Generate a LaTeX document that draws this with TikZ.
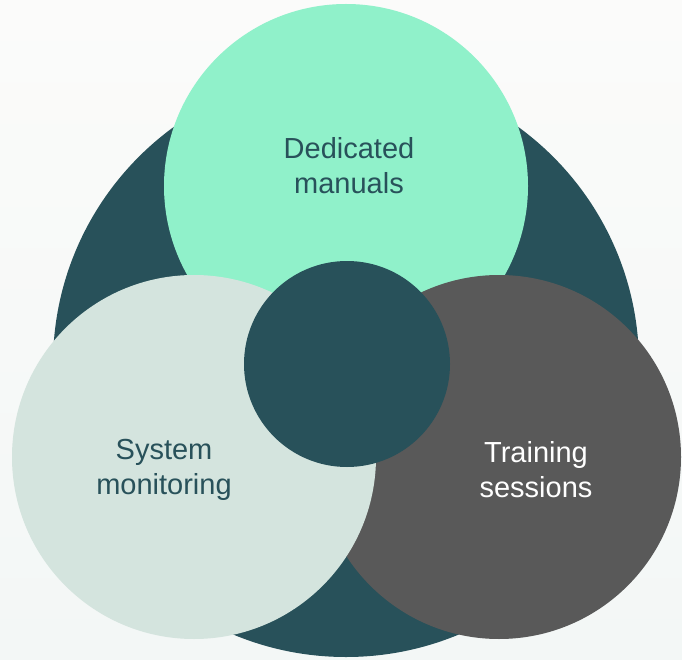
\documentclass[tikz,border=0pt]{standalone}
\usepackage{fontspec}
\setmainfont{Liberation Sans}
\definecolor{darkteal}{HTML}{28515A}
\definecolor{mint}{HTML}{90F1CA}
\definecolor{mist}{HTML}{D4E4DE}
\definecolor{slate}{HTML}{595959}
\definecolor{bgtop}{HTML}{FBFBFA}
\definecolor{bgbottom}{HTML}{F3F7F6}
\begin{document}
\begin{tikzpicture}[x=1pt, y=-1pt,
    disc/.style={circle, inner sep=0pt, minimum size=#1},
    caption/.style={align=center, font=\fontsize{29}{35}\selectfont}]

    % Background
    \shade[top color=bgtop, bottom color=bgbottom] (0,0) rectangle (682,660);
    \useasboundingbox (0,0) rectangle (682,660);

    % Circles
    \node[disc=586pt, fill=darkteal] (outer) at (346,364) {};
    \node[disc=364pt, fill=mint] (top) at (346,186) {};
    \node[disc=364pt, fill=slate] (right) at (499,457) {};
    \node[disc=364pt, fill=mist] (left) at (194,457) {};
    \node[disc=206pt, fill=darkteal] (core) at (347,364) {};

    % Texts
    \node[caption, text=darkteal] (manuals) at (349,166) {Dedicated\\manuals};
    \node[caption, text=darkteal] (monitoring) at (164,470) {System\\monitoring};
    \node[caption, text=white] (training) at (536,470) {Training\\sessions};

\end{tikzpicture}
\end{document}
